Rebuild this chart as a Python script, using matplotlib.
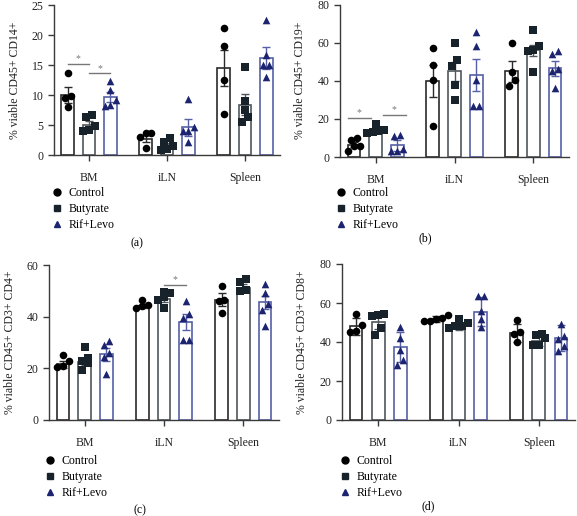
import numpy as np
import matplotlib
matplotlib.use("Agg")
from matplotlib import pyplot as plt
from matplotlib.lines import Line2D

plt.rcParams['font.family'] = ['Liberation Serif', 'DejaVu Serif']
plt.rcParams['font.size'] = 8

W, H = 577, 516

tissues = ["BM", "iLN", "Spleen"]
groups = ["Control", "Butyrate", "Rif+Levo"]

# (a) CD14+
a_pts = {
    "Control":  [[13.7, 9.5, 9.9, 8.0], [3.0, 3.7, 3.7, 1.2], [21.1, 18.2, 12.5, 6.8]],
    "Butyrate": [[6.3, 6.6, 4.8, 4.2, 4.0], [2.9, 2.2, 1.5, 0.8, 1.0], [14.7, 9.0, 7.5, 6.3, 5.5]],
    "Rif+Levo": [[12.3, 10.8, 9.2, 8.2, 8.3], [9.3, 4.6, 4.0, 4.0, 2.2], [22.5, 16.7, 15.0, 15.0, 13.0]],
}
a_bar = {"Control": [10.0, 2.7, 14.5], "Butyrate": [5.0, 1.6, 8.4], "Rif+Levo": [9.7, 4.6, 16.2]}
a_err = {"Control": [1.4, 0.6, 3.0], "Butyrate": [0.6, 0.4, 1.8], "Rif+Levo": [0.8, 1.4, 1.8]}

# (b) CD19+
b_pts = {
    "Control":  [[8.8, 10.2, 5.8, 5.8, 3.2], [57.0, 48.5, 40.5, 16.5], [60.0, 44.5, 40.5, 37.0]],
    "Butyrate": [[17.5, 14.0, 13.5, 13.0, 12.8], [60.0, 51.0, 47.5, 38.0, 30.0], [66.5, 58.0, 56.0, 55.5, 44.5]],
    "Rif+Levo": [[11.0, 11.8, 3.0, 3.0, 4.0], [65.5, 58.0, 40.5, 26.5, 26.5], [54.0, 55.5, 45.0, 46.0, 36.0]],
}
b_bar = {"Control": [6.5, 40.0, 45.0], "Butyrate": [14.0, 45.0, 56.0], "Rif+Levo": [6.1, 43.0, 46.5]}
b_err = {"Control": [1.2, 8.5, 5.5], "Butyrate": [0.9, 5.0, 3.0], "Rif+Levo": [2.7, 8.5, 4.0]}

# (c) CD3+ CD4+
c_pts = {
    "Control":  [[25.0, 23.0, 20.5, 21.0], [46.5, 44.0, 43.5, 44.5], [52.0, 46.5, 46.0, 41.5]],
    "Butyrate": [[28.3, 24.0, 23.0, 22.0, 19.5], [49.5, 49.0, 47.5, 46.5, 43.5], [54.5, 53.5, 50.5, 50.0]],
    "Rif+Levo": [[30.5, 29.0, 26.0, 24.5, 18.0], [46.0, 41.0, 39.5, 31.0, 31.0], [52.5, 49.0, 45.0, 42.5, 36.5]],
}
c_bar = {"Control": [21.5, 44.0, 46.5], "Butyrate": [22.5, 47.0, 51.0], "Rif+Levo": [25.5, 38.0, 45.5]}
c_err = {"Control": [1.2, 0.7, 2.5], "Butyrate": [1.4, 1.2, 1.5], "Rif+Levo": [2.5, 3.0, 2.5]}

# (d) CD3+ CD8+
d_pts = {
    "Control":  [[54.5, 48.5, 45.5, 45.0], [54.0, 52.0, 51.0, 52.5, 51.0], [51.5, 45.0, 44.0, 40.0]],
    "Butyrate": [[54.5, 54.0, 53.5, 47.0, 43.5], [52.0, 50.0, 48.0, 48.0, 47.0], [44.0, 43.5, 42.0, 38.5, 38.5]],
    "Rif+Levo": [[47.5, 42.0, 36.0, 31.0, 28.0], [63.5, 63.5, 56.0, 52.0, 47.5], [49.0, 43.0, 41.5, 38.0, 35.5]],
}
d_bar = {"Control": [48.0, 52.0, 44.5], "Butyrate": [50.5, 48.0, 40.5], "Rif+Levo": [37.5, 55.5, 42.0]}
d_err = {"Control": [4.5, 1.5, 4.5], "Butyrate": [4.0, 2.0, 2.5], "Rif+Levo": [7.5, 7.5, 6.5]}

edge = {"Control": "#2a2a2a", "Butyrate": "#4f575c", "Rif+Levo": "#5560a6"}
mfc = {"Control": "#000000", "Butyrate": "#17222b", "Rif+Levo": "#1c2470"}
mk = {"Control": "o", "Butyrate": "s", "Rif+Levo": "^"}
offs = {"Control": -0.275, "Butyrate": 0.0, "Rif+Levo": 0.275}


def spread(vals, tol):
    # simple beeswarm: points with close values go side by side
    vals = np.asarray(vals, float)
    order = np.argsort(vals)
    xs = np.zeros(len(vals))
    i = 0
    while i < len(order):
        j = i
        while j + 1 < len(order) and vals[order[j + 1]] - vals[order[i]] < tol:
            j += 1
        k = j - i + 1
        pos = (np.arange(k) - (k - 1) / 2) * 0.075
        for n, idx in enumerate(order[i:j + 1]):
            xs[idx] = pos[n]
        i = j + 1
    return xs


def panel(box, pts, bar, err, ymax, step, ylabel, sig, legpos, tag, tagpos):
    x0, y0, x1, y1 = box
    ax = fig.add_axes([x0 / W, 1 - y1 / H, (x1 - x0) / W, (y1 - y0) / H])
    for g in groups:
        for t in range(3):
            xc = t + offs[g]
            ax.bar(xc, bar[g][t], width=0.16, facecolor="white", edgecolor=edge[g], linewidth=1.2, zorder=2)
            ax.errorbar(xc, bar[g][t], yerr=err[g][t], color=edge[g], capsize=3, elinewidth=1.0,
                        capthick=1.0, zorder=3)
            v = pts[g][t]
            ax.scatter(xc + spread(v, ymax * 0.045), v, marker=mk[g], s=30, color=mfc[g],
                       linewidths=0, zorder=4)
    for (xa, xb, yy) in sig:
        ax.plot([xa, xb], [yy, yy], color="#777777", lw=1.0, zorder=5)
        ax.text((xa + xb) / 2, yy + ymax * 0.005, "*", ha="center", va="bottom", color="#777777", fontsize=7)
    ax.set_xlim(-0.45, 2.45)
    ax.set_ylim(0, ymax)
    ax.set_yticks(np.arange(0, ymax + 0.1, step))
    ax.set_xticks(range(3))
    ax.set_xticklabels(tissues)
    for s in ["top", "right"]:
        ax.spines[s].set_visible(False)
    for s in ["left", "bottom"]:
        ax.spines[s].set_color("#3a3a3a")
        ax.spines[s].set_linewidth(1.0)
    ax.tick_params(colors="#3a3a3a", length=4, width=1.0, labelsize=8.5, labelcolor="#222222")
    ax.tick_params(axis="x", pad=8)
    ax.set_ylabel(ylabel, fontsize=8.5, color="#222222", labelpad=8)
    handles = [Line2D([], [], marker=mk[g], color=mfc[g], ls="none", markersize=5) for g in groups]
    fig.legend(handles, groups, loc="upper left", bbox_to_anchor=(legpos[0] / W, 1 - legpos[1] / H),
               frameon=False, handlelength=0.9, handletextpad=0.5, labelspacing=0.35, borderpad=0,
               borderaxespad=0, fontsize=8.5)
    fig.text(tagpos[0] / W, 1 - tagpos[1] / H, tag, ha="center", va="center", fontsize=8.5)
    return ax


fig = plt.figure(figsize=(W / 100, H / 100), dpi=100)

panel((54, 5, 280, 155), a_pts, a_bar, a_err, 25, 5, "% viable CD45+ CD14+",
      [(-0.275, 0.0, 15.2), (0.0, 0.275, 13.6)], (52, 187), "(a)", (137, 243))
panel((340, 4.5, 569, 157), b_pts, b_bar, b_err, 80, 20, "% viable CD45+ CD19+",
      [(-0.354, -0.063, 20.3), (0.089, 0.38, 21.9)], (336, 187), "(b)", (425, 238))
panel((49, 265, 279, 420), c_pts, c_bar, c_err, 60, 20, "% viable CD45+ CD3+ CD4+",
      [(1.0, 1.275, 52.3)], (45, 455), "(c)", (140, 510))
panel((342, 264, 575, 420), d_pts, d_bar, d_err, 80, 20, "% viable CD45+ CD3+ CD8+",
      [], (340, 455), "(d)", (428, 506))

fig.savefig("out.png", dpi=100)
